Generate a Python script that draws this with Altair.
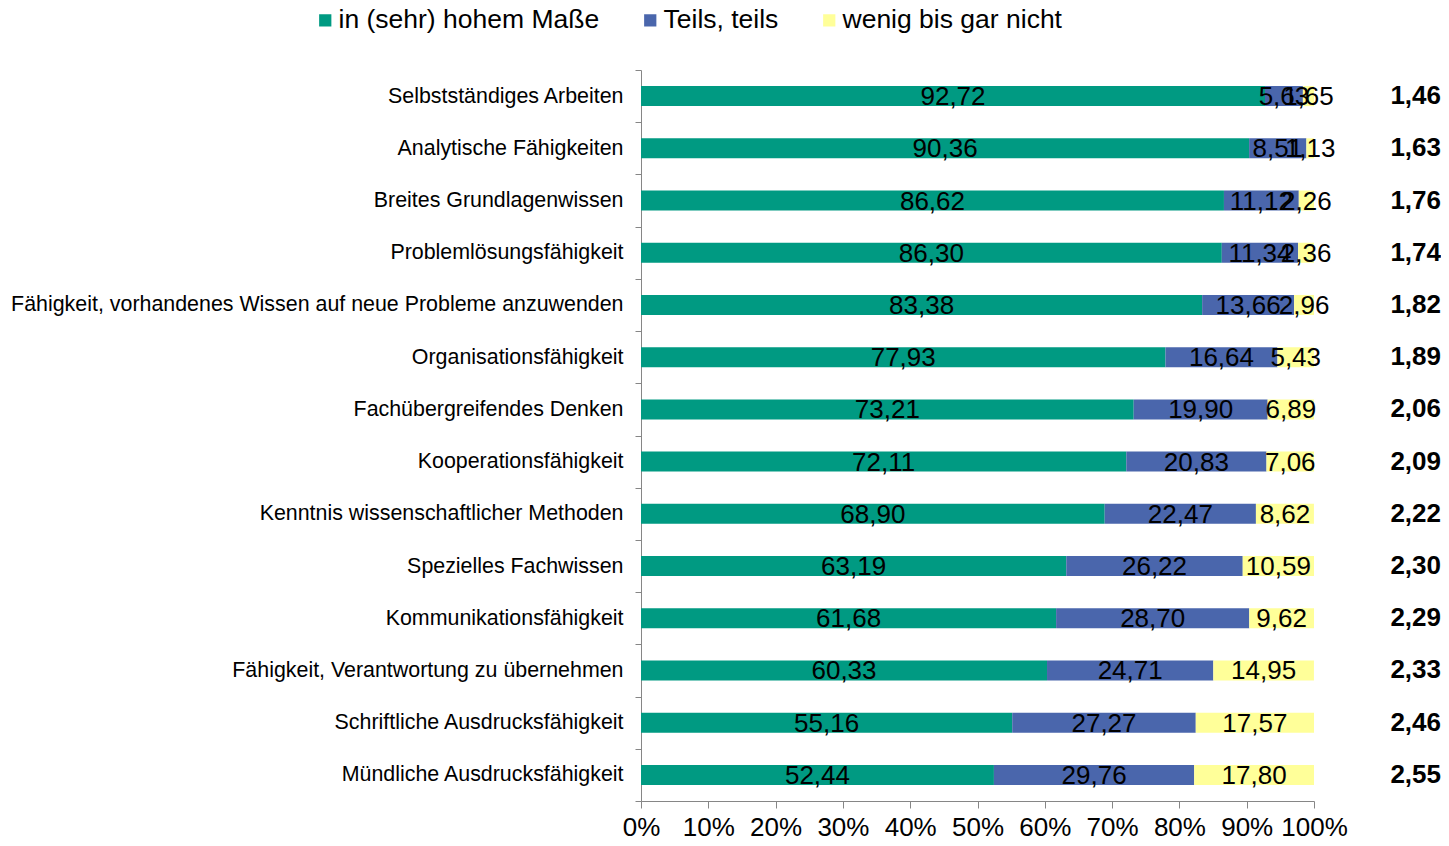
import altair as alt
import pandas as pd

categories = [
    "Selbstständiges Arbeiten",
    "Analytische Fähigkeiten",
    "Breites Grundlagenwissen",
    "Problemlösungsfähigkeit",
    "Fähigkeit, vorhandenes Wissen auf neue Probleme anzuwenden",
    "Organisationsfähigkeit",
    "Fachübergreifendes Denken",
    "Kooperationsfähigkeit",
    "Kenntnis wissenschaftlicher Methoden",
    "Spezielles Fachwissen",
    "Kommunikationsfähigkeit",
    "Fähigkeit, Verantwortung zu übernehmen",
    "Schriftliche Ausdrucksfähigkeit",
    "Mündliche Ausdrucksfähigkeit",
]
hoch = [92.72, 90.36, 86.62, 86.30, 83.38, 77.93, 73.21, 72.11, 68.90, 63.19, 61.68, 60.33, 55.16, 52.44]
teils = [5.63, 8.51, 11.12, 11.34, 13.66, 16.64, 19.90, 20.83, 22.47, 26.22, 28.70, 24.71, 27.27, 29.76]
wenig = [1.65, 1.13, 2.26, 2.36, 2.96, 5.43, 6.89, 7.06, 8.62, 10.59, 9.62, 14.95, 17.57, 17.80]
mittelwert = [1.46, 1.63, 1.76, 1.74, 1.82, 1.89, 2.06, 2.09, 2.22, 2.30, 2.29, 2.33, 2.46, 2.55]

series = ["in (sehr) hohem Maße", "Teils, teils", "wenig bis gar nicht"]
colors = ["#009A82", "#4A66AC", "#FFFF99"]
x_ticks = [0, 10, 20, 30, 40, 50, 60, 70, 80, 90, 100]

rows = []
for c, a, b, w in zip(categories, hoch, teils, wenig):
    for i, (s, v) in enumerate(zip(series, [a, b, w])):
        rows.append({"cat": c, "series": s, "order": i, "value": v})
df = pd.DataFrame(rows)
mdf = pd.DataFrame({"cat": categories, "mean": mittelwert})

FONT = "Liberation Sans"
AXC = "#868686"
W, H = 673, 731

yscale = alt.Scale(paddingInner=0, paddingOuter=0)

y_main = alt.Y(
    "cat:N", sort=categories, title=None, scale=yscale,
    axis=alt.Axis(
        tickBand="extent", domainColor=AXC, tickColor=AXC, tickSize=6,
        labelFontSize=21.4, labelFont=FONT, labelColor="black", labelPadding=12,
        labelLimit=700, grid=False,
    ),
)
y_plain = alt.Y("cat:N", sort=categories, title=None, scale=yscale)

base = alt.Chart(df).transform_stack(
    stack="value", groupby=["cat"], as_=["x0", "x1"],
    sort=[alt.SortField(field="order", order="ascending")],
)

bars = base.mark_bar(strokeWidth=0, height=alt.RelativeBandSize(band=0.383)).encode(
    x=alt.X(
        "x0:Q", title=None,
        scale=alt.Scale(domain=[0, 100], nice=False),
        axis=alt.Axis(
            values=x_ticks, labelExpr="datum.value + '%'", domainColor=AXC,
            tickColor=AXC, tickSize=7, labelFontSize=26, labelFont=FONT,
            labelColor="black", labelPadding=6, grid=False, labelFlush=False,
        ),
    ),
    x2="x1:Q",
    y=y_main,
    color=alt.Color(
        "series:N", scale=alt.Scale(domain=series, range=colors),
        legend=alt.Legend(
            orient="none", legendX=-329, legendY=-63, direction="horizontal",
            title=None, symbolType="square", symbolSize=150, symbolStrokeWidth=0,
            labelFontSize=26.5, labelFont=FONT, labelColor="black", labelLimit=400,
            columnPadding=37, labelOffset=0,
        ),
    ),
    order=alt.Order("order:Q"),
)

labels = base.transform_calculate(
    mid="(datum.x0 + datum.x1) / 2",
    lab="replace(format(datum.value, '.2f'), '.', ',')",
).mark_text(fontSize=26, font=FONT, color="black", baseline="middle", dy=1).encode(
    x="mid:Q", y=y_plain, text="lab:N"
)

means = alt.Chart(mdf).transform_calculate(
    lab="replace(format(datum.mean, '.2f'), '.', ',')"
).mark_text(
    fontSize=26, font=FONT, fontWeight="bold", color="black", align="right", baseline="middle"
).encode(x=alt.value(800), y=y_plain, text="lab:N")

chart = alt.layer(bars, labels, means).properties(
    width=W, height=H,
    autosize=alt.AutoSizeParams(type="none"),
    padding={"left": 633, "top": 62, "right": 127, "bottom": 36},
).configure(font=FONT, view=alt.ViewConfig(strokeWidth=0))

chart.save("out.html", embed_options={"renderer": "svg", "actions": False})
